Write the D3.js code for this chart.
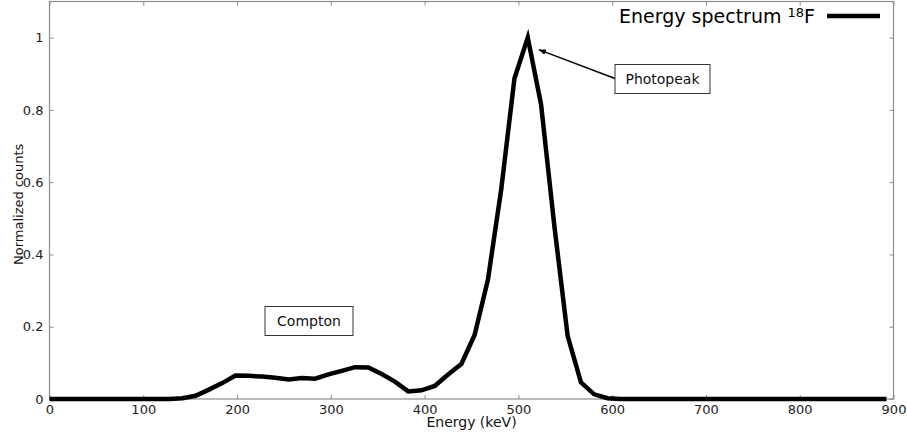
<!DOCTYPE html>
<html>
<head>
<meta charset="utf-8">
<script src="https://cdn.jsdelivr.net/npm/d3@7/dist/d3.min.js"></script>
<style>
  html, body { margin: 0; padding: 0; background: #fff; }
  svg { display: block; font-family: "DejaVu Sans", sans-serif; }
</style>
</head>
<body>
<svg id="chart" width="907" height="434"></svg>
<script>
// Energy bins (keV) of the 18F spectrum, ~14.17 keV wide
const energies = [
  0, 14.2, 28.3, 42.5, 56.7, 70.8, 85.0, 99.2, 113.3, 127.5,
  141.7, 155.8, 170.0, 184.2, 198.3, 212.5, 226.7, 240.8, 255.0, 269.2,
  283.3, 297.5, 311.7, 325.8, 340.0, 354.2, 368.3, 382.5, 396.7, 410.8,
  425.0, 439.2, 453.3, 467.5, 481.7, 495.8, 510.0, 524.2, 538.3, 552.5,
  566.7, 580.8, 595.0, 609.2, 623.3, 637.5, 651.7, 665.8, 680.0, 694.2,
  708.3, 722.5, 736.7, 750.8, 765.0, 779.2, 793.3, 807.5, 821.7, 835.8,
  850.0, 864.2, 878.3, 892.5
];
// Normalized counts per bin
const counts = [
  0, 0, 0, 0, 0, 0, 0, 0, 0, 0,
  0.002, 0.009, 0.026, 0.044, 0.065, 0.064, 0.062, 0.059, 0.054, 0.058,
  0.056, 0.068, 0.078, 0.088, 0.087, 0.069, 0.048, 0.021, 0.024, 0.036,
  0.068, 0.097, 0.177, 0.33, 0.58, 0.887, 1.0, 0.815, 0.48, 0.175,
  0.046, 0.013, 0.002, 0, 0, 0, 0, 0, 0, 0,
  0, 0, 0, 0, 0, 0, 0, 0, 0, 0,
  0, 0, 0, 0
];
const xTicks = [0, 100, 200, 300, 400, 500, 600, 700, 800, 900];
const yTicks = [0, 0.2, 0.4, 0.6, 0.8, 1];
const seriesName = "Energy spectrum ";
const seriesSup = "18";
const seriesTail = "F";
const annotations = [
  { text: "Photopeak", energy: 510, value: 1.0 },
  { text: "Compton", energy: null, value: null }
];

const svg = d3.select("#chart");
const plotLeft = 49.5, plotRight = 893.5, plotTop = 1.5, plotBottom = 399;

const x = d3.scaleLinear().domain([0, 900]).range([plotLeft, plotRight]);
const y = d3.scaleLinear().domain([0, 1.1]).range([plotBottom, plotTop]);

const axisColor = "#8c8c8c";
const fontSize = 13;

// frame
svg.append("rect")
  .attr("x", plotLeft).attr("y", plotTop)
  .attr("width", plotRight - plotLeft).attr("height", plotBottom - plotTop)
  .attr("fill", "none").attr("stroke", axisColor).attr("stroke-width", 1.2);

// ticks pointing inward on all four sides
function styleAxis(g) {
  g.select(".domain").remove();
  g.selectAll(".tick line").attr("stroke", axisColor).attr("stroke-width", 1);
  g.selectAll(".tick text").attr("fill", "#222").style("font-size", fontSize + "px")
    .style("font-family", "'DejaVu Sans', sans-serif");
}

const fmtY = d => d === 0 ? "0" : (d === 1 ? "1" : d3.format(".1f")(d));

svg.append("g").attr("transform", `translate(0,${plotBottom})`)
  .call(d3.axisBottom(x).tickValues(xTicks).tickSize(-4).tickPadding(6).tickFormat(d3.format("d")))
  .call(styleAxis);
svg.append("g").attr("transform", `translate(0,${plotTop})`)
  .call(d3.axisTop(x).tickValues(xTicks).tickSize(-4).tickFormat(""))
  .call(styleAxis);
svg.append("g").attr("transform", `translate(${plotLeft},0)`)
  .call(d3.axisLeft(y).tickValues(yTicks).tickSize(-4).tickPadding(6).tickFormat(fmtY))
  .call(styleAxis);
svg.append("g").attr("transform", `translate(${plotRight},0)`)
  .call(d3.axisRight(y).tickValues(yTicks).tickSize(-4).tickFormat(""))
  .call(styleAxis);

// axis titles
svg.append("text")
  .attr("x", (plotLeft + plotRight) / 2).attr("y", 427)
  .attr("text-anchor", "middle").attr("fill", "#111")
  .style("font-size", "14px")
  .text("Energy (keV)");
svg.append("text")
  .attr("transform", "translate(23,265) rotate(-90)")
  .attr("text-anchor", "start").attr("fill", "#111")
  .style("font-size", fontSize + "px")
  .text("Normalized counts");

// spectrum line
const data = energies.map((e, i) => ({ e, c: counts[i] }));
svg.append("path")
  .datum(data)
  .attr("fill", "none").attr("stroke", "#000")
  .attr("stroke-width", 4.5).attr("stroke-linejoin", "miter")
  .attr("d", d3.line().x(d => x(d.e)).y(d => y(d.c)));

// legend
const legText = svg.append("text")
  .attr("x", 815).attr("y", 23).attr("text-anchor", "end")
  .attr("fill", "#000").style("font-size", "19px");
legText.append("tspan").text(seriesName);
legText.append("tspan").attr("dy", -6).style("font-size", "13px").text(seriesSup);
legText.append("tspan").attr("dy", 6).text(seriesTail);
svg.append("line")
  .attr("x1", 827).attr("x2", 880).attr("y1", 16).attr("y2", 16)
  .attr("stroke", "#000").attr("stroke-width", 4.5);

// annotation boxes
function box(cx, cy, w, h, label) {
  svg.append("rect")
    .attr("x", cx - w / 2).attr("y", cy - h / 2)
    .attr("width", w).attr("height", h)
    .attr("fill", "#fff").attr("stroke", "#333").attr("stroke-width", 1);
  svg.append("text")
    .attr("x", cx).attr("y", cy).attr("dy", "0.35em")
    .attr("text-anchor", "middle").attr("fill", "#111")
    .style("font-size", "14px")
    .text(label);
}

// photopeak arrow
svg.append("defs").append("marker")
  .attr("id", "head").attr("viewBox", "0 0 10 10")
  .attr("refX", 10).attr("refY", 5)
  .attr("markerWidth", 7).attr("markerHeight", 7)
  .attr("markerUnits", "userSpaceOnUse")
  .attr("orient", "auto")
  .append("path").attr("d", "M0,1 L10,5 L0,9 Z").attr("fill", "#000");

const peak = annotations[0];
svg.append("line")
  .attr("x1", 615).attr("y1", 78.5)
  .attr("x2", x(peak.energy) + 11).attr("y2", y(peak.value) + 12)
  .attr("stroke", "#000").attr("stroke-width", 1.4)
  .attr("marker-end", "url(#head)");

box(662.5, 79, 95, 29, annotations[0].text);
box(309, 321, 88, 29, annotations[1].text);
</script>
</body>
</html>
